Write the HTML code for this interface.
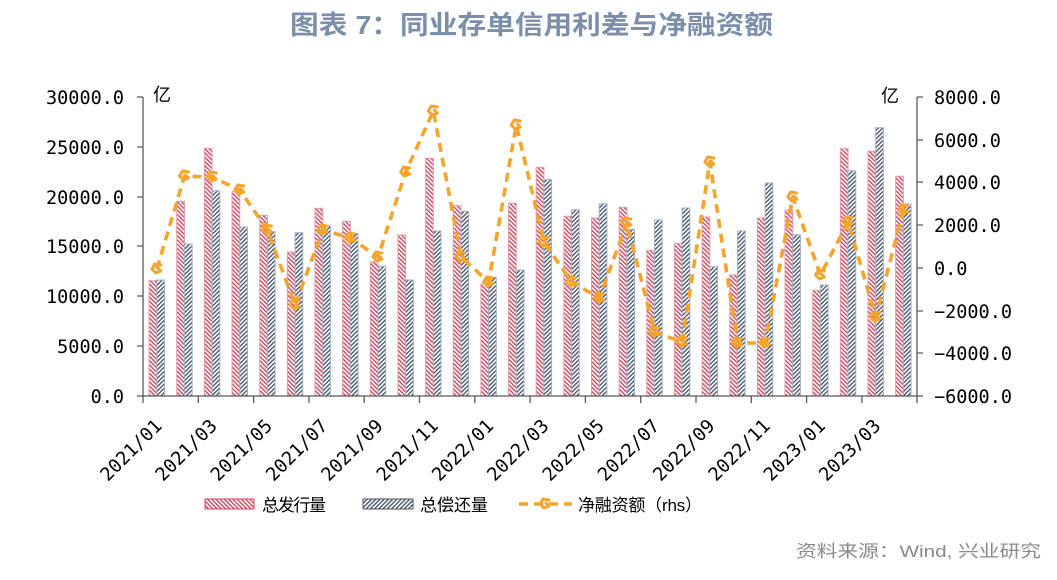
<!DOCTYPE html>
<html><head><meta charset="utf-8"><style>
html,body{margin:0;padding:0;background:#fff;}
svg{display:block;}
.ax{font-family:"DejaVu Sans Mono","Liberation Mono",monospace;font-size:18.5px;fill:#000;}
.cj{font-family:"Liberation Sans","Noto Sans CJK SC",sans-serif;fill:#000;}
</style></head><body>
<svg width="1057" height="580" viewBox="0 0 1057 580" xmlns="http://www.w3.org/2000/svg">
<defs>
<pattern id="pr" patternUnits="userSpaceOnUse" width="3" height="3" patternTransform="rotate(-45)">
<rect width="3" height="3" fill="#fff"/><rect width="1.35" height="3" fill="#D2405A"/>
</pattern>
<pattern id="pb" patternUnits="userSpaceOnUse" width="3" height="3" patternTransform="rotate(45)">
<rect width="3" height="3" fill="#fff"/><rect width="1.35" height="3" fill="#44546A"/>
</pattern>
<g id="mk"><path d="M4,-4 L-2,-5 L-5,0 L-1,4 L4,2 L1,-1" fill="none" stroke="#F6A42A" stroke-width="3" stroke-linecap="round" stroke-linejoin="round"/></g>
</defs>
<rect width="1057" height="580" fill="#fff"/>
<!-- title -->
<text x="290" y="34" textLength="483" lengthAdjust="spacingAndGlyphs" style="font-family:'Liberation Sans','Noto Sans CJK SC',sans-serif;font-size:26px;font-weight:bold;fill:#7B8FAC;">图表 7：同业存单信用利差与净融资额</text>

<!-- bars red -->
<g fill="url(#pr)" stroke="#E79AA7" stroke-width="1">
<rect x="149.10" y="280.7" width="7.7" height="115.3"/>
<rect x="176.75" y="201.3" width="7.7" height="194.7"/>
<rect x="204.40" y="148.3" width="7.7" height="247.7"/>
<rect x="232.05" y="191.7" width="7.7" height="204.3"/>
<rect x="259.70" y="215.3" width="7.7" height="180.7"/>
<rect x="287.35" y="252.0" width="7.7" height="144.0"/>
<rect x="315.00" y="208.3" width="7.7" height="187.7"/>
<rect x="342.65" y="221.3" width="7.7" height="174.7"/>
<rect x="370.30" y="261.7" width="7.7" height="134.3"/>
<rect x="397.95" y="235.0" width="7.7" height="161.0"/>
<rect x="425.60" y="158.3" width="7.7" height="237.7"/>
<rect x="453.25" y="205.7" width="7.7" height="190.3"/>
<rect x="480.90" y="284.0" width="7.7" height="112.0"/>
<rect x="508.55" y="203.3" width="7.7" height="192.7"/>
<rect x="536.20" y="167.3" width="7.7" height="228.7"/>
<rect x="563.85" y="216.3" width="7.7" height="179.7"/>
<rect x="591.50" y="218.0" width="7.7" height="178.0"/>
<rect x="619.15" y="207.3" width="7.7" height="188.7"/>
<rect x="646.80" y="250.3" width="7.7" height="145.7"/>
<rect x="674.45" y="243.3" width="7.7" height="152.7"/>
<rect x="702.10" y="217.0" width="7.7" height="179.0"/>
<rect x="729.75" y="275.0" width="7.7" height="121.0"/>
<rect x="757.40" y="218.0" width="7.7" height="178.0"/>
<rect x="785.05" y="210.0" width="7.7" height="186.0"/>
<rect x="812.70" y="290.3" width="7.7" height="105.7"/>
<rect x="840.35" y="148.7" width="7.7" height="247.3"/>
<rect x="868.00" y="151.3" width="7.7" height="244.7"/>
<rect x="895.65" y="176.3" width="7.7" height="219.7"/>
</g>
<!-- bars blue -->
<g fill="url(#pb)" stroke="#A3B1C6" stroke-width="1">
<rect x="156.80" y="280.0" width="7.7" height="116.0"/>
<rect x="184.45" y="244.0" width="7.7" height="152.0"/>
<rect x="212.10" y="190.7" width="7.7" height="205.3"/>
<rect x="239.75" y="227.0" width="7.7" height="169.0"/>
<rect x="267.40" y="231.7" width="7.7" height="164.3"/>
<rect x="295.05" y="232.7" width="7.7" height="163.3"/>
<rect x="322.70" y="225.7" width="7.7" height="170.3"/>
<rect x="350.35" y="233.3" width="7.7" height="162.7"/>
<rect x="378.00" y="266.3" width="7.7" height="129.7"/>
<rect x="405.65" y="280.0" width="7.7" height="116.0"/>
<rect x="433.30" y="231.0" width="7.7" height="165.0"/>
<rect x="460.95" y="211.3" width="7.7" height="184.7"/>
<rect x="488.60" y="277.3" width="7.7" height="118.7"/>
<rect x="516.25" y="270.0" width="7.7" height="126.0"/>
<rect x="543.90" y="179.7" width="7.7" height="216.3"/>
<rect x="571.55" y="209.7" width="7.7" height="186.3"/>
<rect x="599.20" y="203.7" width="7.7" height="192.3"/>
<rect x="626.85" y="229.3" width="7.7" height="166.7"/>
<rect x="654.50" y="220.0" width="7.7" height="176.0"/>
<rect x="682.15" y="208.0" width="7.7" height="188.0"/>
<rect x="709.80" y="266.7" width="7.7" height="129.3"/>
<rect x="737.45" y="231.0" width="7.7" height="165.0"/>
<rect x="765.10" y="183.0" width="7.7" height="213.0"/>
<rect x="792.75" y="234.7" width="7.7" height="161.3"/>
<rect x="820.40" y="285.0" width="7.7" height="111.0"/>
<rect x="848.05" y="170.7" width="7.7" height="225.3"/>
<rect x="875.70" y="127.7" width="7.7" height="268.3"/>
<rect x="903.35" y="204.0" width="7.7" height="192.0"/>
</g>

<!-- axes -->
<g stroke="#595959" stroke-width="1.3" fill="none">
<line x1="143" y1="97" x2="143" y2="396"/>
<line x1="917" y1="97" x2="917" y2="396"/>
<line x1="143" y1="396" x2="917" y2="396"/>
<path d="M137,97H143M137,147H143M137,197H143M137,246H143M137,296H143M137,346H143M137,396H143"/>
<path d="M917,97H923M917,140H923M917,182H923M917,225H923M917,268H923M917,311H923M917,353H923M917,396H923"/>
<path d="M143,396V403M198.3,396V403M253.6,396V403M308.9,396V403M364.2,396V403M419.5,396V403M474.8,396V403M530.1,396V403M585.4,396V403M640.7,396V403M696,396V403M751.3,396V403M806.6,396V403M861.9,396V403M917,396V403"/>
</g>

<!-- left labels -->
<g class="ax" text-anchor="end">
<text x="124" y="104">30000.0</text>
<text x="124" y="154">25000.0</text>
<text x="124" y="204">20000.0</text>
<text x="124" y="253">15000.0</text>
<text x="124" y="303">10000.0</text>
<text x="124" y="353">5000.0</text>
<text x="124" y="403">0.0</text>
</g>
<!-- right labels -->
<g class="ax">
<text x="934" y="104">8000.0</text>
<text x="934" y="147">6000.0</text>
<text x="934" y="189">4000.0</text>
<text x="934" y="232">2000.0</text>
<text x="934" y="275">0.0</text>
<text x="934" y="318">−2000.0</text>
<text x="934" y="360">−4000.0</text>
<text x="934" y="403">−6000.0</text>
</g>
<text class="cj" x="153" y="101" style="font-size:18px;">亿</text>
<text class="cj" x="881" y="102" style="font-size:18px;">亿</text>

<!-- x labels -->
<g class="ax" text-anchor="end">
<text transform="translate(163,427) rotate(-45)">2021/01</text>
<text transform="translate(218.1,427) rotate(-45)">2021/03</text>
<text transform="translate(273.4,427) rotate(-45)">2021/05</text>
<text transform="translate(328.7,427) rotate(-45)">2021/07</text>
<text transform="translate(384,427) rotate(-45)">2021/09</text>
<text transform="translate(439.3,427) rotate(-45)">2021/11</text>
<text transform="translate(494.6,427) rotate(-45)">2022/01</text>
<text transform="translate(549.9,427) rotate(-45)">2022/03</text>
<text transform="translate(605.2,427) rotate(-45)">2022/05</text>
<text transform="translate(660.5,427) rotate(-45)">2022/07</text>
<text transform="translate(715.8,427) rotate(-45)">2022/09</text>
<text transform="translate(771.1,427) rotate(-45)">2022/11</text>
<text transform="translate(826.4,427) rotate(-45)">2023/01</text>
<text transform="translate(881.7,427) rotate(-45)">2023/03</text>
</g>

<!-- line -->
<polyline fill="none" stroke="#F6A42A" stroke-width="3.6" stroke-dasharray="9,6" stroke-linejoin="round"
points="156.83,269 184.48,176 212.13,177 239.78,190 267.43,230 295.08,305 322.73,230 350.38,238 378.03,257 405.68,172 433.33,111 460.98,257 488.63,282 516.28,125 543.93,242 571.58,282 599.23,298 626.88,223 654.53,332 682.18,342 709.83,162 737.48,343 765.13,343 792.78,197 820.43,275 848.08,222 875.73,317 903.38,210"/>
<g>
<use href="#mk" x="156.83" y="269"/><use href="#mk" x="184.48" y="176"/><use href="#mk" x="212.13" y="177"/><use href="#mk" x="239.78" y="190"/>
<use href="#mk" x="267.43" y="230"/><use href="#mk" x="295.08" y="305"/><use href="#mk" x="322.73" y="230"/><use href="#mk" x="350.38" y="238"/>
<use href="#mk" x="378.03" y="257"/><use href="#mk" x="405.68" y="172"/><use href="#mk" x="433.33" y="111"/><use href="#mk" x="460.98" y="257"/>
<use href="#mk" x="488.63" y="282"/><use href="#mk" x="516.28" y="125"/><use href="#mk" x="543.93" y="242"/><use href="#mk" x="571.58" y="282"/>
<use href="#mk" x="599.23" y="298"/><use href="#mk" x="626.88" y="223"/><use href="#mk" x="654.53" y="332"/><use href="#mk" x="682.18" y="342"/>
<use href="#mk" x="709.83" y="162"/><use href="#mk" x="737.48" y="343"/><use href="#mk" x="765.13" y="343"/><use href="#mk" x="792.78" y="197"/>
<use href="#mk" x="820.43" y="275"/><use href="#mk" x="848.08" y="222"/><use href="#mk" x="875.73" y="317"/><use href="#mk" x="903.38" y="210"/>
</g>

<!-- legend -->
<rect x="205" y="499" width="49" height="10" fill="url(#pr)" stroke="#D2405A" stroke-width="1"/>
<text class="cj" x="262" y="511" textLength="64" lengthAdjust="spacing" style="font-size:17px;">总发行量</text>
<rect x="363" y="499" width="50" height="10" fill="url(#pb)" stroke="#44546A" stroke-width="1"/>
<text class="cj" x="420" y="511" textLength="68" lengthAdjust="spacing" style="font-size:17px;">总偿还量</text>
<line x1="519" y1="504" x2="572" y2="504" stroke="#F6A42A" stroke-width="3.6" stroke-dasharray="9,6"/>
<use href="#mk" x="545" y="504"/>
<text class="cj" x="578" y="511" textLength="124" lengthAdjust="spacing" style="font-size:17px;">净融资额（rhs）</text>

<!-- source -->
<text x="796" y="557" textLength="245" lengthAdjust="spacingAndGlyphs" style="font-family:'Liberation Sans','Noto Sans CJK SC',sans-serif;font-size:17px;fill:#898989;">资料来源：Wind, 兴业研究</text>
</svg>
</body></html>
